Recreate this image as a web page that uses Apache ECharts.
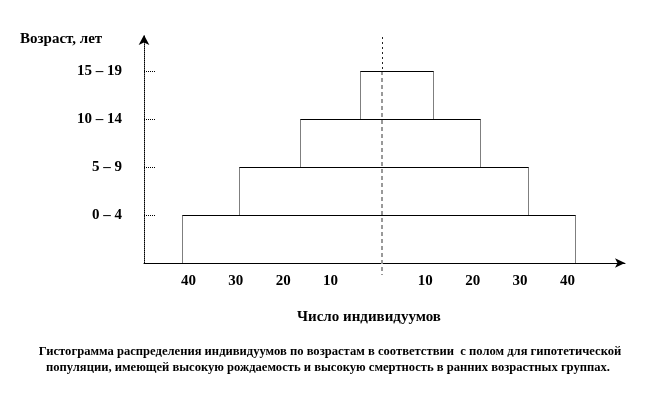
<!DOCTYPE html>
<html><head><meta charset="utf-8">
<script src="https://cdn.jsdelivr.net/npm/echarts@6/dist/echarts.min.js"></script>
<style>html,body{margin:0;padding:0;background:#fff}#c{width:660px;height:396px}</style>
</head><body><div id="c"></div>
<script>
const categories = ['0 – 4', '5 – 9', '10 – 14', '15 – 19'];
const leftValues = [42, 30, 17, 4.5];
const rightValues = [41, 31, 21, 11];
const xTickValues = [-40, -30, -20, -10, 10, 20, 30, 40];
const yAxisTitle = 'Возраст, лет';
const xAxisTitle = 'Число индивидуумов';
const captionLines = [
  'Гистограмма распределения индивидуумов по возрастам в соответствии  с полом для гипотетической',
  'популяции, имеющей высокую рождаемость и высокую смертность в ранних возрастных группах.'
];

const FONT = '"Liberation Serif", "DejaVu Serif", serif';
const chart = echarts.init(document.getElementById('c'), null, {renderer: 'canvas'});
const crisp = v => Math.round(v) + 0.5;

const barData = categories.map((c, i) => [i, leftValues[i], rightValues[i]]);

chart.setOption({
  animation: false,
  backgroundColor: '#fff',
  grid: {left: 144, top: 35, right: 35, bottom: 133, containLabel: false},
  xAxis: {
    type: 'value', min: -50, max: 51.5, interval: 10,
    splitLine: {show: false},
    axisLine: {show: true, onZero: false, symbol: ['none', 'arrow'], symbolSize: [7, 10], lineStyle: {color: '#000', width: 1}},
    axisTick: {show: false},
    axisLabel: {
      customValues: xTickValues, margin: 11, padding: [0, 6, 0, 0],
      formatter: v => String(Math.abs(v)),
      fontFamily: FONT, fontWeight: 'bold', fontSize: 15, color: '#000'
    }
  },
  yAxis: {
    type: 'value', min: 0, max: 4.75, interval: 1,
    splitLine: {show: false},
    axisLine: {show: true, onZero: false, symbol: ['none', 'arrow'], symbolSize: [8, 10], lineStyle: {color: '#000', width: 1, type: [1, 1]}},
    axisTick: {show: true, inside: true, length: 12, customValues: [1, 2, 3, 4], lineStyle: {color: '#000', type: [1, 1]}},
    axisLabel: {
      customValues: [1, 2, 3, 4], margin: 22,
      formatter: v => categories[Math.round(v) - 1] || '',
      fontFamily: FONT, fontWeight: 'bold', fontSize: 15, color: '#000'
    }
  },
  graphic: [
    {type: 'text', left: 20, top: 32, style: {text: yAxisTitle, font: 'bold 15px ' + FONT, fill: '#000'}},
    {type: 'text', x: 369, y: 317, style: {text: xAxisTitle, font: 'bold 15px ' + FONT, fill: '#000', align: 'center', verticalAlign: 'middle'}},
    {type: 'text', x: 330, y: 352, style: {text: captionLines[0], font: 'bold 12.6px ' + FONT, fill: '#000', align: 'center', verticalAlign: 'middle'}},
    {type: 'text', x: 328, y: 368, style: {text: captionLines[1], font: 'bold 12.6px ' + FONT, fill: '#000', align: 'center', verticalAlign: 'middle'}}
  ],
  series: [
    {
      type: 'custom', clip: false, z: 3,
      encode: {x: [1, 2], y: 0},
      data: barData,
      renderItem: (params, api) => {
        const i = api.value(0), L = api.value(1), R = api.value(2);
        const tl = api.coord([-L, i + 1]);
        const br = api.coord([R, i]);
        const x0 = crisp(tl[0]), x1 = crisp(br[0]), yt = crisp(tl[1]), yb = crisp(br[1]);
        return {
          type: 'group',
          children: [
            {type: 'line', shape: {x1: x0, y1: yt, x2: x1, y2: yt}, style: {stroke: '#000', lineWidth: 1}},
            {type: 'line', shape: {x1: x0, y1: yt, x2: x0, y2: yb}, style: {stroke: '#000', lineWidth: 1, lineDash: [1, 1]}},
            {type: 'line', shape: {x1: x1, y1: yt, x2: x1, y2: yb}, style: {stroke: '#000', lineWidth: 1, lineDash: [1, 1]}}
          ]
        };
      }
    },
    {
      type: 'custom', clip: false, z: 2,
      encode: {x: 0, y: 1},
      data: [[0, 4]],
      renderItem: (params, api) => {
        const top = api.coord([api.value(0), 4.75]);
        const mid = api.coord([api.value(0), api.value(1)]);
        const bot = api.coord([api.value(0), -0.25]);
        const x = Math.round(top[0]) + 1;
        return {
          type: 'group',
          children: [
            {type: 'line', shape: {x1: x + 0.5, y1: top[1] + 2, x2: x + 0.5, y2: mid[1]}, style: {stroke: '#222', lineWidth: 1, lineDash: [2, 3]}},
            {type: 'line', shape: {x1: x, y1: mid[1], x2: x, y2: bot[1]}, style: {stroke: '#999', lineWidth: 2, lineDash: [4, 3]}}
          ]
        };
      }
    }
  ]
});
</script></body></html>
